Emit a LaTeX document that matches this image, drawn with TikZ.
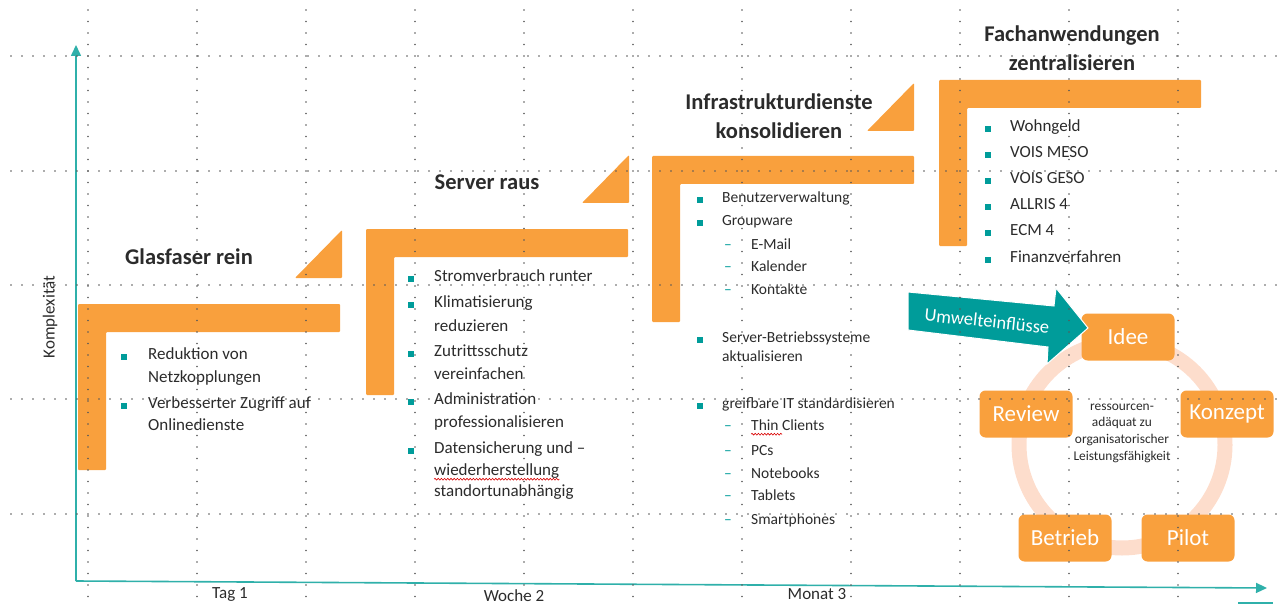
\documentclass[tikz,border=0pt]{standalone}
\usepackage{fontspec}
\setmainfont{Carlito}
\usetikzlibrary{arrows.meta,decorations.pathmorphing}

\definecolor{stufe}{HTML}{F9A03D}
\definecolor{petrol}{HTML}{009C9A}
\definecolor{achse}{HTML}{2FB0AA}
\definecolor{kreis}{HTML}{FDDDCC}
\definecolor{schrift}{HTML}{2B2B2B}

\tikzset{
  raster/.style={black!65, line width=1.6pt, line cap=round},
  ttl/.style={font=\bfseries\fontsize{22.5}{29.5}\selectfont, align=center, text=schrift, inner sep=0pt},
  zeile/.style={anchor=west, inner sep=0pt, text height=0.7em, text depth=0.2em, text=schrift, font=\fontsize{17}{20}\selectfont},
  klein/.style={zeile, font=\fontsize{15.5}{18}\selectfont},
  punkt/.style={fill=petrol, minimum size=5.5pt, inner sep=0pt},
  strich/.style={text=petrol, inner sep=0pt, font=\fontsize{15.5}{18}\selectfont},
  phase/.style={fill=stufe, rounded corners=6pt, minimum width=93pt, minimum height=47pt, text=white, font=\fontsize{23}{27}\selectfont, inner sep=0pt},
  welle/.style={red!85!black, line width=0.6pt, decorate, decoration={snake, amplitude=0.9pt, segment length=3.2pt}},
}

\begin{document}
\begin{tikzpicture}[x=1pt, y=-1pt]
  \useasboundingbox (0,0) rectangle (1279,604);

  % Achsen
  \coordinate (null) at (76,581);
  \coordinate (oben) at (76,45);
  \coordinate (rechts) at (1267,588);
  \draw[achse, line width=1.6pt, -{Triangle[length=11pt, width=10pt]}] (null) -- (oben);
  \draw[achse, line width=1.6pt, -{Triangle[length=11pt, width=10pt]}] (null) -- (rechts);
  \draw[achse, line width=1.6pt] (1238,603) -- (1273,603);
  \node[zeile, anchor=center, rotate=90] (kompl) at (52,317) {Komplexität};
  \node[zeile, anchor=center] (tag) at (230,596) {Tag 1};
  \node[zeile, anchor=center] (woche) at (514,599) {Woche 2};
  \node[zeile, anchor=center] (monat) at (817,597) {Monat 3};

  % Stufen
  \foreach \x/\y in {78/304, 366/229, 652/156, 939/80}
    \fill[stufe, rounded corners=1pt] (\x,\y) -- ++(262,0) -- ++(0,28) -- ++(-234,0) -- ++(0,138) -- ++(-28,0) -- cycle;
  \foreach \x/\y in {342/278, 629/203, 914/131}
    \fill[stufe, rounded corners=1pt] (\x,\y) -- ++(-47,0) -- ++(47,-48) -- cycle;

  \node[ttl] (t1) at (189,257) {Glasfaser rein};
  \node[ttl] (t2) at (487,182) {Server raus};
  \node[ttl] (t3) at (779,116) {Infrastrukturdienste\\konsolidieren};
  \node[ttl] (t4) at (1072,48) {Fachanwendungen\\zentralisieren};

  % Glasfaser
  \foreach \y/\txt [count=\i] in {357/Reduktion von, 380/Netzkopplungen, 406/Verbesserter Zugriff auf, 428/Onlinedienste}
    \node[zeile] (a\i) at (148,\y) {\txt};
  \foreach \y [count=\i] in {357,406}
    \node[punkt] (ap\i) at (124,\y) {};

  % Server
  \foreach \y/\txt [count=\i] in {279/Stromverbrauch runter, 305/Klimatisierung, 329/reduzieren,
      354/Zutrittsschutz, 377/vereinfachen, 402/Administration, 425/professionalisieren,
      451/Datensicherung und –, 473/wiederherstellung, 494/standortunabhängig}
    \node[zeile] (b\i) at (434,\y) {\txt};
  \foreach \y [count=\i] in {279,305,354,402,451}
    \node[punkt] (bp\i) at (411,\y) {};
  \draw[welle] ([yshift=-1.5pt]b9.south west) -- ([yshift=-1.5pt]b9.south east);

  % Infrastruktur
  \foreach \y/\txt [count=\i] in {200/Benutzerverwaltung, 223/Groupware, 340/Server-Betriebssysteme,
      359/aktualisieren, 406/greifbare IT standardisieren}
    \node[klein] (c\i) at (722,\y) {\txt};
  \foreach \y [count=\i] in {200,223,340,406}
    \node[punkt] (cp\i) at (700,\y) {};
  \foreach \y/\txt [count=\i] in {247/E-Mail, 269/Kalender, 292/Kontakte, 428/Thin Clients,
      453/PCs, 476/Notebooks, 498/Tablets, 522/Smartphones} {
    \node[klein] (cs\i) at (751,\y) {\txt};
    \node[strich] (cd\i) at (728,\y) {–};
  }
  \draw[welle] ([yshift=-1.5pt]cs4.south west) -- ++(31,0);

  % Fachanwendungen
  \foreach \y/\txt [count=\i] in {129/Wohngeld, 155/VOIS MESO, 181/VOIS GESO, 207/ALLRIS 4,
      233/ECM 4, 260/Finanzverfahren} {
    \node[zeile] (d\i) at (1010,\y) {\txt};
    \node[punkt] (dp\i) at (988,\y) {};
  }

  % Zyklus
  \draw[kreis, line width=15pt] (1122,445) circle[radius=103pt];
  \node[phase] (idee) at (1128,337) {Idee};
  \node[phase] (konzept) at (1227,414) {Konzept};
  \node[phase] (pilot) at (1188,538) {Pilot};
  \node[phase] (betrieb) at (1065,538) {Betrieb};
  \node[phase] (review) at (1026,414) {Review};
  \node[align=center, font=\fontsize{13.4}{16.7}\selectfont, text=schrift, inner sep=0pt] (mitte) at (1122,433)
    {ressourcen-\\adäquat zu\\organisatorischer\\Leistungsfähigkeit};

  \fill[petrol, draw=white, line width=1pt] (908,292) -- (1054,306) -- (1056,288) -- (1088,328)
    -- (1047,364) -- (1048,347) -- (908,330) -- cycle;
  \node[text=white, rotate=-6, font=\fontsize{18.5}{22}\selectfont, inner sep=0pt] (umwelt) at (987,321) {Umwelteinflüsse};

  % Raster
  \foreach \x in {88,197,...,1178}
    \draw[raster, dash pattern=on 0pt off 11.5pt] (\x,10) -- (\x,604);
  \foreach \y in {56,171,285,399,514}
    \draw[raster, dash pattern=on 0pt off 11pt] (11,\y) -- (1279,\y);
\end{tikzpicture}
\end{document}
